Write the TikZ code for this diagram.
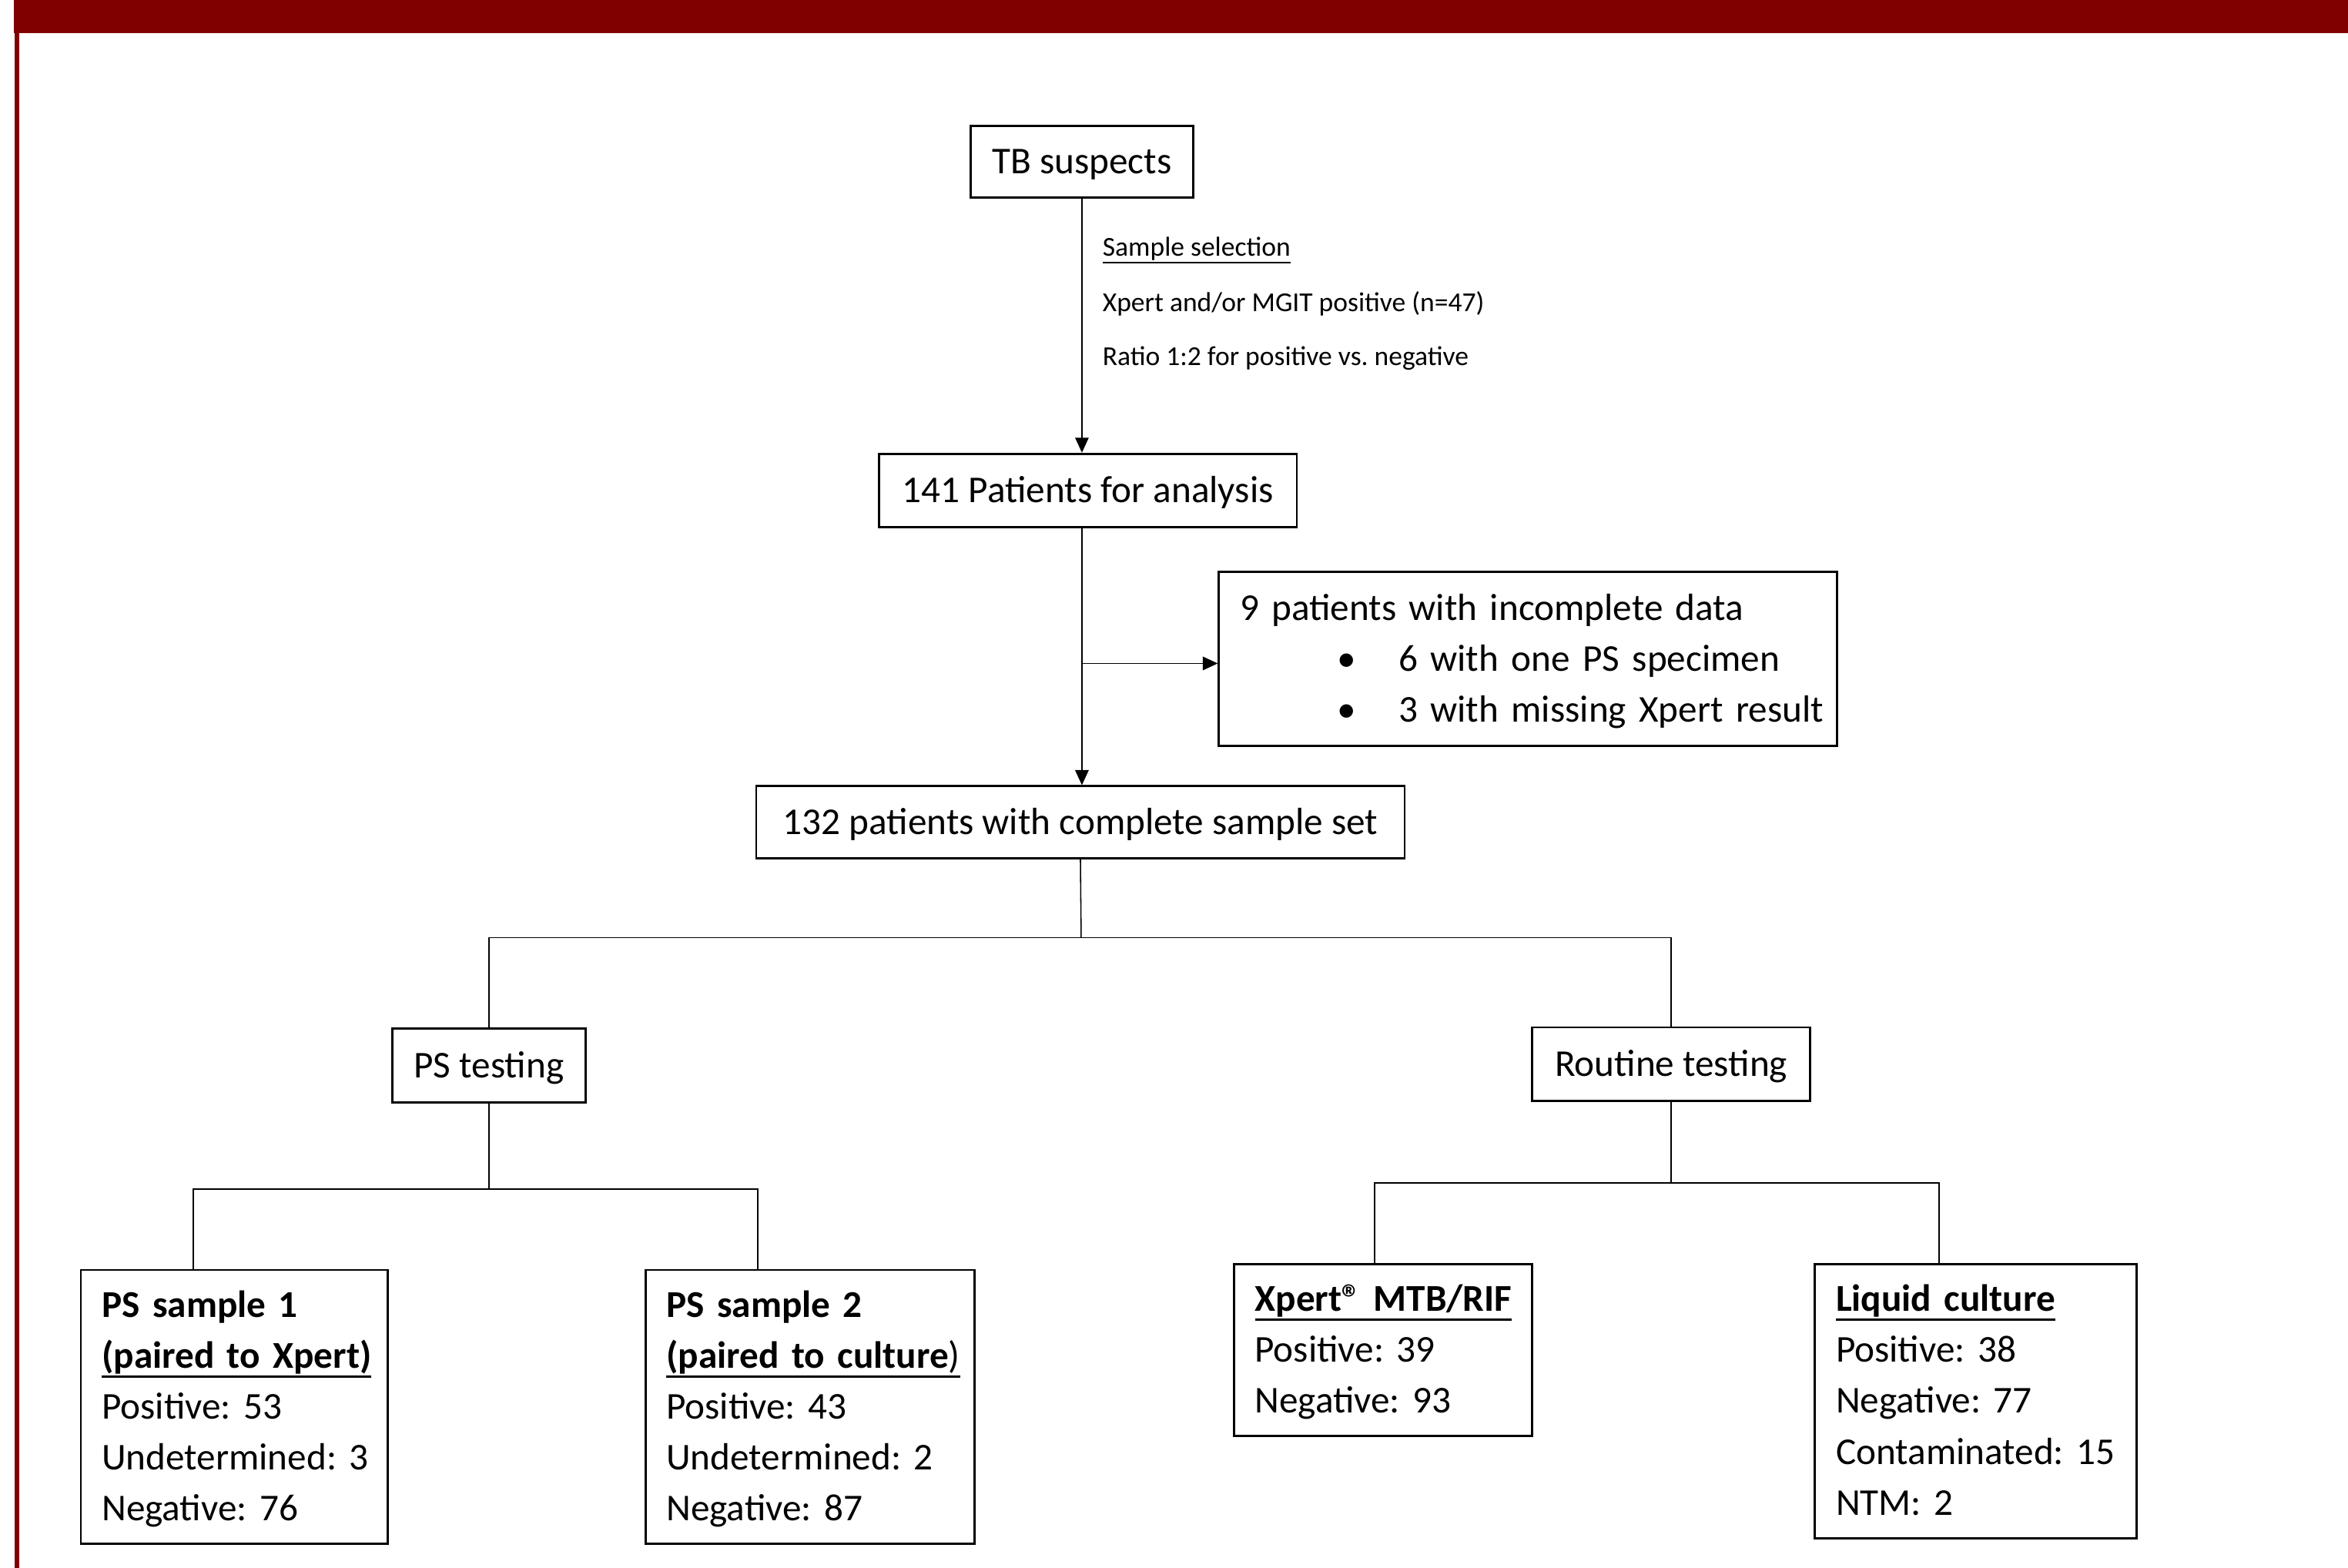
\documentclass[tikz,border=0pt]{standalone}
\usepackage{fontspec}
\setmainfont{Carlito}
\usetikzlibrary{arrows.meta}
\newlength\pxu
\setlength\pxu{0.2mm}
\definecolor{barred}{RGB}{128,0,0}
\newcommand\mainfnt{\fontsize{14.4}{19.35}\selectfont\frenchspacing}
\newcommand\smallfnt{\fontsize{10.4}{12}\selectfont\frenchspacing}
% underline with a chosen thickness
\newcommand\myul[2]{\leavevmode\setbox0=\hbox{#2}\rlap{\rule[-\dimexpr\dp0+0.5pt+#1\relax]{\wd0}{#1}}\box0}
\newcommand\bl[1]{\mbox{#1}}
% struts that make the text block symmetric about the cap height
\newcommand\topstrut{\rule{0pt}{15.27pt}}
\newcommand\botstrut{\rule[-6pt]{0pt}{0pt}}
\tikzset{
  box/.style={draw=black, line width=0.3mm, inner sep=0pt, font=\mainfnt},
  sbox/.style={box, text height=9.27pt, text depth=0pt},
  tbox/.style={box, align=left, inner xsep=14\pxu},
  conn/.style={draw=black, line width=0.16mm},
  arr/.style={conn, -{Triangle[length=2mm,width=1.8mm]}},
  note/.style={anchor=base west, inner sep=0pt, font=\smallfnt},
}
\begin{document}
\begin{tikzpicture}[x=0.2mm, y=-0.2mm]
\useasboundingbox (0,0) rectangle (1568,1047);
% frame decoration
\fill[barred] (9.3,0) rectangle (1568,22);
\fill[barred] (9.8,22) rectangle (13,1047);

% boxes
\node[sbox, minimum width=149\pxu, minimum height=48\pxu] (tb) at (722.5,108) {TB suspects};
\node[sbox, minimum width=279\pxu, minimum height=49\pxu] (p141) at (726.5,327.5) {141 Patients for analysis};
\node[tbox, minimum height=116\pxu, text width=385\pxu] (inc) at (1020.5,440)
  {\bl{\topstrut 9 patients with incomplete data}\\
   \bl{\hspace*{65\pxu}\makebox[41\pxu][l]{\textbullet}6 with one PS specimen}\\
   \bl{\hspace*{65\pxu}\makebox[41\pxu][l]{\textbullet}3 with missing Xpert result\botstrut}};
\node[sbox, minimum width=433\pxu, minimum height=48\pxu] (c132) at (721.5,549) {132 patients with complete sample set};
\node[sbox, minimum width=129\pxu, minimum height=49\pxu] (pst) at (326.5,711.5) {PS testing};
\node[sbox, minimum width=186\pxu, minimum height=49\pxu] (rt) at (1116,710.5) {Routine testing};

\node[tbox, minimum height=183\pxu, text width=177\pxu] (ps1) at (156.5,939.5)
  {\bl{\topstrut\textbf{PS sample 1}}\\
   \bl{\myul{0.9pt}{\textbf{(paired to Xpert)}}}\\
   \bl{Positive: 53}\\
   \bl{Undetermined: 3}\\
   \bl{Negative: 76\botstrut}};
\node[tbox, minimum height=183\pxu, text width=192\pxu] (ps2) at (541,939.5)
  {\bl{\topstrut\textbf{PS sample 2}}\\
   \bl{\myul{0.9pt}{\textbf{(paired to culture})}}\\
   \bl{Positive: 43}\\
   \bl{Undetermined: 2}\\
   \bl{Negative: 87\botstrut}};
\node[tbox, minimum height=115\pxu, text width=171\pxu] (xp) at (923.5,901.5)
  {\bl{\topstrut\myul{0.9pt}{\textbf{Xpert\textregistered\ MTB/RIF}}}\\
   \bl{Positive: 39}\\
   \bl{Negative: 93\botstrut}};
\node[tbox, minimum height=183\pxu, text width=187\pxu] (lc) at (1319.5,935.5)
  {\bl{\topstrut\myul{0.9pt}{\textbf{Liquid culture}}}\\
   \bl{Positive: 38}\\
   \bl{Negative: 77}\\
   \bl{Contaminated: 15}\\
   \bl{NTM: 2\botstrut}};

% selection notes
\node[note] (s1) at (736,171) {\myul{0.45pt}{Sample selection}};
\node[note] (s2) at (736,208) {Xpert and/or MGIT positive (n=47)};
\node[note] (s3) at (736,244) {Ratio 1:2 for positive vs. negative};

% connectors
\coordinate (j1) at (723,443);
\coordinate (h1) at (722,626);
\coordinate (a1) at (129,794);
\coordinate (a2) at (506,794);
\coordinate (b1) at (918,790);
\coordinate (b2) at (1295,790);

\draw[arr] (tb.south) -- (tb.south |- p141.north);
\draw[arr] (tb.south |- p141.south) -- (tb.south |- c132.north);
\draw[arr] (j1) -- (j1 -| inc.west);
\draw[conn] (c132.south) -- (h1);
\draw[conn] (pst.north) -- (pst.north |- h1) -- (rt.north |- h1) -- (rt.north);
\draw[conn] (pst.south) -- (pst.south |- a1);
\draw[conn] (a1 |- ps1.north) -- (a1) -- (a2) -- (a2 |- ps2.north);
\draw[conn] (rt.south) -- (rt.south |- b1);
\draw[conn] (b1 |- xp.north) -- (b1) -- (b2) -- (b2 |- lc.north);
\end{tikzpicture}
\end{document}
